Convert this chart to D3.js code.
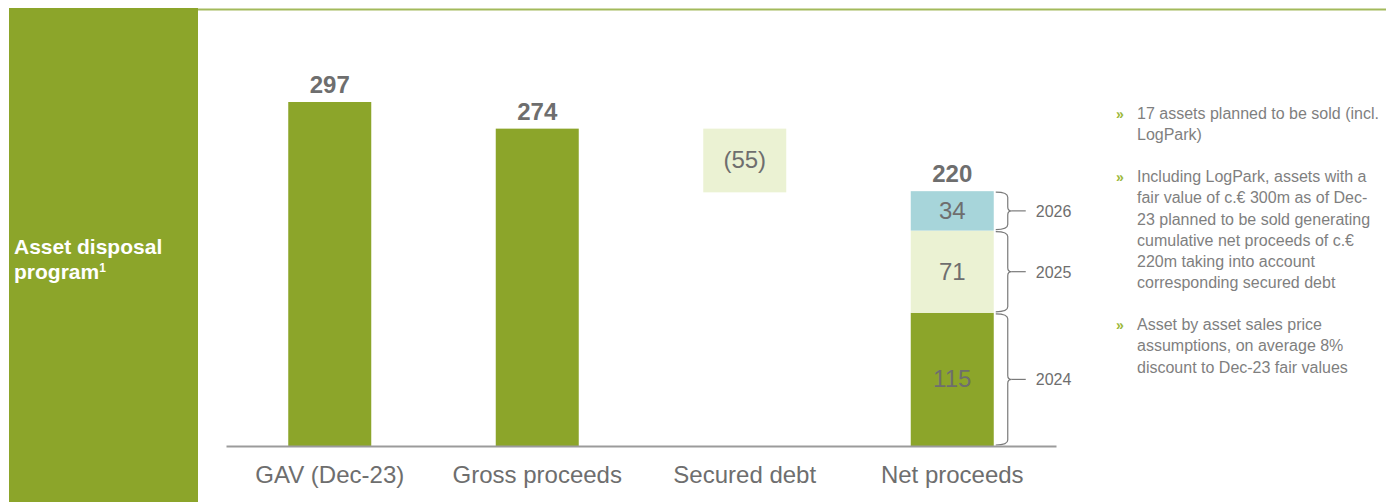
<!DOCTYPE html>
<html>
<head>
<meta charset="utf-8">
<script src="https://cdn.jsdelivr.net/npm/d3@7"></script>
<style>
  body { margin: 0; background: #fff; }
  svg { display: block; font-family: "Liberation Sans", Arial, sans-serif; }
</style>
</head>
<body>
<div id="chart"></div>
<script>
// chart data
const categories = ["GAV (Dec-23)", "Gross proceeds", "Secured debt", "Net proceeds"];
const totals = [297, 274, -55, 220];
const netYears = ["2024", "2025", "2026"];
const netValues = [115, 71, 34];
const bullets = [
  ["17 assets planned to be sold (incl.", "LogPark)"],
  ["Including LogPark, assets with a", "fair value of c.€ 300m as of Dec-", "23 planned to be sold generating",
   "cumulative net proceeds of c.€", "220m taking into account", "corresponding secured debt"],
  ["Asset by asset sales price", "assumptions, on average 8%", "discount to Dec-23 fair values"]
];

const green = "#8ca52a", light = "#ebf2d3", teal = "#a7d5da", grey = "#6e6e6e";
const W = 1386, H = 502;

const svg = d3.select("#chart").append("svg").attr("width", W).attr("height", H);

// left side panel + top rule
svg.append("rect").attr("x", 9).attr("y", 8).attr("width", 189).attr("height", H - 8).attr("fill", green);
svg.append("line").attr("x1", 198).attr("x2", W).attr("y1", 9.5).attr("y2", 9.5)
  .attr("stroke", "#a3ba5c").attr("stroke-width", 2);
const panelText = svg.append("text").attr("fill", "#fff").attr("font-weight", "bold").attr("font-size", 21);
panelText.append("tspan").attr("x", 14).attr("y", 254).text("Asset disposal");
const t2 = panelText.append("tspan").attr("x", 14).attr("y", 279).text("program");
t2.append("tspan").attr("font-size", 12).attr("dy", -7).text("1");

// scales
const x = d3.scaleBand().domain(categories).range([226, 1056]).paddingInner(0.6).paddingOuter(0.3);
const y = d3.scaleLinear().domain([0, 297]).range([446, 102]);

// running waterfall positions
const bars = [];
let run = 0;
categories.forEach((c, i) => {
  const v = totals[i];
  if (i === 2) {
    bars.push({ c, v, y0: run + v, y1: run, fill: light });
    run += v;
  } else if (i < 2) {
    bars.push({ c, v, y0: 0, y1: v, fill: green });
    run = v;
  }
});

const g = svg.append("g");
g.selectAll(".bar").data(bars).enter().append("rect")
  .attr("x", d => x(d.c)).attr("width", x.bandwidth())
  .attr("y", d => y(d.y1)).attr("height", d => y(d.y0) - y(d.y1))
  .attr("fill", d => d.fill);

// stacked net proceeds
const segColors = [green, light, teal];
let acc = 0;
const segs = netValues.map((v, i) => { const s = { year: netYears[i], v, y0: acc, y1: acc + v, fill: segColors[i] }; acc += v; return s; });
const net = categories[3];
g.selectAll(".seg").data(segs).enter().append("rect")
  .attr("x", x(net)).attr("width", x.bandwidth())
  .attr("y", d => y(d.y1)).attr("height", d => y(d.y0) - y(d.y1))
  .attr("fill", d => d.fill);
g.selectAll(".seglab").data(segs).enter().append("text")
  .attr("x", x(net) + x.bandwidth() / 2).attr("y", d => y((d.y0 + d.y1) / 2) + 8)
  .attr("text-anchor", "middle").attr("font-size", 24).attr("fill", grey).text(d => d.v);

// curly braces + year labels
const bx = x(net) + x.bandwidth() + 2;
function brace(t, b) {
  const m = (t + b) / 2, w = 12;
  return `M${bx},${t} Q${bx + w},${t} ${bx + w},${t + 5} L${bx + w},${m - 4} Q${bx + w},${m} ${bx + w + 4},${m}` +
         ` Q${bx + w},${m} ${bx + w},${m + 4} L${bx + w},${b - 5} Q${bx + w},${b} ${bx},${b}`;
}
segs.forEach(s => {
  const t = y(s.y1) + 1, b = y(s.y0) - 1, m = (t + b) / 2;
  g.append("path").attr("d", brace(t, b)).attr("fill", "none").attr("stroke", "#7a7a7a").attr("stroke-width", 1.2);
  g.append("line").attr("x1", bx + 16).attr("x2", bx + 30).attr("y1", m).attr("y2", m).attr("stroke", "#7a7a7a").attr("stroke-width", 1.2);
  g.append("text").attr("x", bx + 40).attr("y", m + 6).attr("font-size", 16).attr("fill", grey).text(s.year);
});

// value labels
const tops = [297, 274, null, 220];
categories.forEach((c, i) => {
  if (tops[i] === null) return;
  g.append("text").attr("x", x(c) + x.bandwidth() / 2).attr("y", y(tops[i]) - 9)
    .attr("text-anchor", "middle").attr("font-size", 24).attr("font-weight", "bold").attr("fill", grey).text(tops[i]);
});
const db = bars[2];
g.append("text").attr("x", x(db.c) + x.bandwidth() / 2).attr("y", y((db.y0 + db.y1) / 2) + 8)
  .attr("text-anchor", "middle").attr("font-size", 24).attr("fill", grey).text(`(${Math.abs(db.v)})`);

// baseline axis
const axis = svg.append("g").attr("transform", `translate(0,${y(0)})`)
  .call(d3.axisBottom(x).tickSize(0).tickPadding(20));
axis.select(".domain").attr("stroke", "#9b9b9b").attr("stroke-width", 2);
axis.selectAll(".tick text").attr("font-size", 24).attr("fill", grey)
  .attr("font-family", "'Liberation Sans', Arial, sans-serif");

// bullet text
const tg = svg.append("g");
let ly = 119;
bullets.forEach(lines => {
  tg.append("text").attr("x", 1116).attr("y", ly).attr("font-size", 14).attr("fill", "#9cb83a").attr("font-weight", "bold").text("»");
  lines.forEach((l, j) => {
    tg.append("text").attr("x", 1137).attr("y", ly + j * 21.2).attr("font-size", 16).attr("fill", "#7f7f7f").text(l);
  });
  ly += lines.length * 21.2 + 20.8;
});
</script>
</body>
</html>
